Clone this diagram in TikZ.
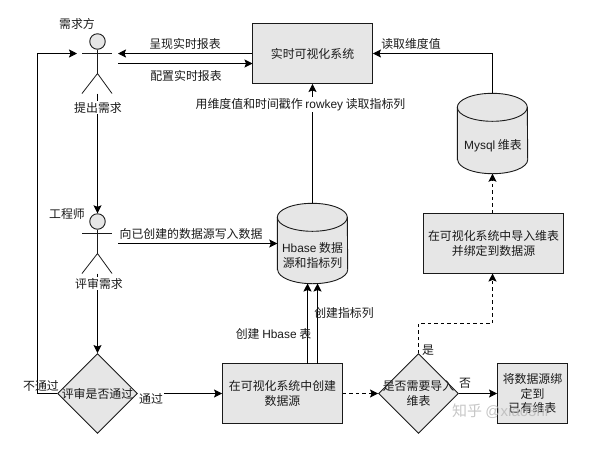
\documentclass[tikz,border=0pt]{standalone}
\usepackage{fontspec}
\setmainfont{Noto Sans CJK SC}[Scale=1]
\newfontfamily\latf{Liberation Sans}
\newcommand{\lat}[1]{{\latf #1}}
\usetikzlibrary{arrows.meta,shapes.geometric}
\definecolor{boxgray}{HTML}{E6E6E6}
\definecolor{inkc}{HTML}{1A1A1A}
\tikzset{
  base/.style={draw=inkc,fill=boxgray,line width=0.9pt,text=inkc,font=\fontsize{11.9}{14.5}\selectfont,align=center,inner sep=0pt},
  boxn/.style={base,rectangle,minimum width=#1,minimum height=60pt},
  dia/.style={base,diamond,minimum width=80pt,minimum height=80pt,aspect=1},
  cylbox/.style={rectangle,inner sep=0pt,minimum width=70pt,minimum height=80pt},
  cylline/.style={draw=inkc,fill=boxgray,line width=0.9pt},
  head/.style={draw=inkc,fill=boxgray,line width=0.9pt,circle,minimum size=15.5pt,inner sep=0pt},
  lab/.style={text=inkc,font=\fontsize{11.9}{14.5}\selectfont,inner sep=0pt,align=center},
  labw/.style={lab,fill=white,inner sep=1pt},
  conn/.style={draw=black,line width=0.9pt,-{Stealth[length=8pt,width=8pt,inset=1.5pt]}},
  dconn/.style={conn,dash pattern=on 3.5pt off 3pt},
  stick/.style={draw=inkc,line width=0.8pt},
}
\newcommand{\drumshape}[1]{%
  \draw[cylline] ([yshift=14pt]#1.south west) -- ([yshift=-14pt]#1.north west)
    arc[start angle=180,end angle=0,x radius=35pt,y radius=14pt]
    -- ([yshift=14pt]#1.south east)
    arc[start angle=0,end angle=-180,x radius=35pt,y radius=14pt] -- cycle;
  \draw[cylline,fill=none] ([yshift=-14pt]#1.north west)
    arc[start angle=180,end angle=360,x radius=35pt,y radius=14pt];
}
\begin{document}
\begin{tikzpicture}[x=1pt,y=-1pt]
\useasboundingbox (0,0) rectangle (596,451);
\begin{scope}[yshift=-0.5pt]
% nodes
\node[boxn=120pt] (viz) at (312.5,53) {实时可视化系统};
\node[cylbox] (mysql) at (492.5,133) {};
\drumshape{mysql}
\node[lab] (mysqlt) at (493,145) {\lat{Mysql} 维表};
\node[cylbox] (hbase) at (312.5,243) {};
\drumshape{hbase}
\node[lab] (hbaset) at (312.5,255) {\lat{Hbase} 数据\\源和指标列};
\node[boxn=140pt] (imp) at (493.5,243) {在可视化系统中导入维表\\并绑定到数据源};
\node[boxn=120pt] (make) at (282.5,393) {在可视化系统中创建\\数据源};
\node[boxn=70pt] (bind) at (532.5,393) {将数据源绑\\定到\\已有维表};
\node[dia] (d1) at (97.5,393) {};
\node[lab] (d1t) at (97.5,393) {评审是否通过};
\node[dia] (d2) at (418.5,393) {};
\node[lab] (d2t) at (418.5,393) {是否需要导入\\维表};
% actors
\node[head] (a1) at (97.5,41) {};
\coordinate (a1hip) at (97.5,73);
\coordinate (a1l) at (82,53);
\coordinate (a1r) at (112,53);
\draw[stick] (a1.south) -- (a1hip);
\draw[stick] (a1l) -- (a1r);
\draw[stick] (82,93) -- (a1hip) -- (112,93);
\node[head] (a2) at (97.5,221) {};
\coordinate (a2hip) at (97.5,253);
\coordinate (a2l) at (82,233);
\coordinate (a2r) at (112,233);
\draw[stick] (a2.south) -- (a2hip);
\draw[stick] (a2l) -- (a2r);
\draw[stick] (82,273) -- (a2hip) -- (112,273);
% free ends
\coordinate (a1in) at (77,53);
\coordinate (a1out) at (118,53);
\coordinate (a1cfg) at (118,63);
\coordinate (a2out) at (118,243);
% connectors
\draw[conn] (97.5,93) -- (a2.north);
\draw[conn] (97.5,273) -- (d1.north);
\draw[conn] (d1.west) -- (37.5,393) -- (37.5,53) -- (a1in);
\draw[conn] (viz.west) -- (a1out);
\draw[conn] (a1cfg) -- (252.5,63);
\draw[conn] (a2out) -- (hbase.west);
\draw[conn] (d1.east) -- (make.west);
\draw[conn] (307.5,363) -- (307.5,283);
\draw[conn] (317.5,363) -- (317.5,283);
\draw[conn] (hbase.north) -- (viz.south);
\draw[conn] (mysql.north) -- (492.5,53) -- (viz.east);
\draw[dconn] (imp.north -| mysql.south) -- (mysql.south);
\draw[dconn] (d2.north) -- (418.5,323) -- (492.5,323) -- (492.5,273);
\draw[dconn] (make.east) -- (d2.west);
\draw[conn] (d2.east) -- (bind.west);
% labels
\node[lab] at (77,23) {需求方};
\node[lab] at (67,213) {工程师};
\node[labw] at (98,107) {提出需求};
\node[labw] at (99,283) {评审需求};
\node[lab] at (185,43) {呈现实时报表};
\node[lab] at (186,75) {配置实时报表};
\node[labw] at (300.5,104) {用维度值和时间戳作 \lat{rowkey} 读取指标列};
\node[lab] at (191,233) {向已创建的数据源写入数据};
\node[lab] at (41,385) {不通过};
\node[labw] at (151,398) {通过};
\node[lab] at (273.5,333) {创建 \lat{Hbase} 表};
\node[lab] at (344,312) {创建指标列};
\node[lab] at (428,350) {是};
\node[lab] at (465,383) {否};
\node[lab] at (411,43) {读取维度值};
\node[text=white!72!black,opacity=0.8,font=\fontsize{15}{17}\selectfont,inner sep=0pt] (mark) at (501,411) {知乎 \lat{@xiao3hr}};
\end{scope}
\end{tikzpicture}
\end{document}
